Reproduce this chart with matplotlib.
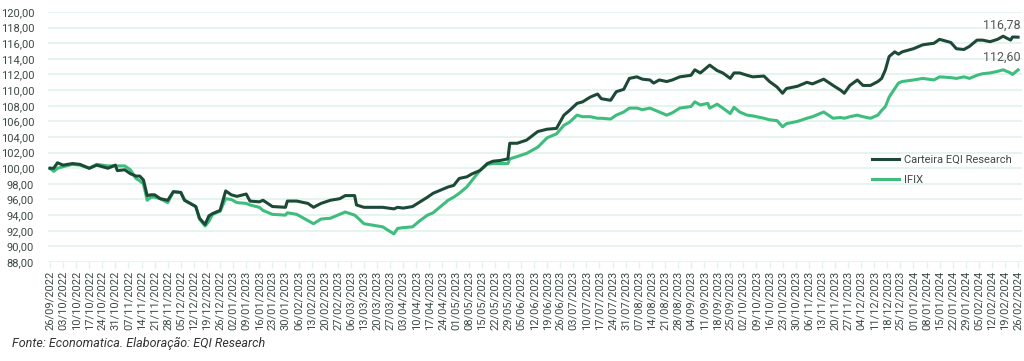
import datetime as dt
import matplotlib
matplotlib.use("Agg")
import matplotlib.pyplot as plt

# dias corridos a partir de 26/09/2022
dias = [0, 2, 4, 7, 12, 16, 21, 25, 31, 35, 36, 40, 43, 46, 48, 50, 52, 54, 56, 59,
        63, 66, 70, 72, 75, 78, 80, 83, 85, 87, 91, 94, 97, 100, 105, 107, 112, 114, 119, 126,
        127, 132, 138, 141, 145, 150, 155, 158, 163, 164, 168, 173, 178, 184, 186, 189, 194, 198, 202, 205,
        213, 216, 219, 223, 226, 230, 234, 237, 241, 245, 246, 250, 255, 261, 266, 271, 275, 278, 282, 285,
        289, 293, 295, 300, 303, 307, 310, 314, 317, 321, 323, 326, 330, 333, 337, 343, 345, 348, 352, 353,
        357, 360, 364, 366, 369, 373, 376, 382, 385, 389, 392, 394, 400, 405, 408, 414, 419, 423, 425, 428,
        432, 435, 439, 443, 445, 447, 449, 452, 454, 456, 462, 467, 473, 476, 482, 485, 489, 492, 496, 499,
        503, 507, 510, 514, 515, 518]

carteira = [100.0, 100.0, 100.7, 100.4, 100.6, 100.5, 100.0, 100.4, 100.0, 100.4, 99.7, 99.8, 99.3, 99.0, 99.0, 98.5, 96.5, 96.6, 96.6, 96.1,
            95.9, 97.0, 96.9, 95.9, 95.5, 95.1, 93.6, 92.8, 93.9, 94.2, 94.6, 97.1, 96.6, 96.4, 96.7, 95.8, 95.7, 95.9, 95.1, 95.0,
            95.8, 95.8, 95.5, 95.0, 95.5, 95.9, 96.1, 96.5, 96.5, 95.3, 95.0, 95.0, 95.0, 94.8, 95.0, 94.9, 95.1, 95.7, 96.3, 96.8,
            97.6, 97.8, 98.7, 98.9, 99.3, 99.7, 100.6, 100.9, 101.0, 101.2, 103.2, 103.2, 103.6, 104.7, 105.0, 105.1, 106.8, 107.4, 108.3, 108.5,
            109.1, 109.5, 108.9, 108.7, 109.8, 110.1, 111.5, 111.7, 111.4, 111.3, 110.9, 111.3, 111.1, 111.3, 111.7, 111.9, 112.6, 112.2, 113.0, 113.2,
            112.5, 112.2, 111.5, 112.2, 112.2, 111.9, 111.7, 111.8, 111.1, 110.4, 109.6, 110.2, 110.5, 111.0, 110.8, 111.4, 110.6, 110.0, 109.6, 110.6,
            111.3, 110.6, 110.6, 111.1, 111.5, 112.6, 114.3, 114.9, 114.6, 114.9, 115.3, 115.8, 116.0, 116.5, 116.1, 115.3, 115.2, 115.6, 116.4, 116.4,
            116.2, 116.5, 116.9, 116.4, 116.8, 116.78]

ifix = [100.0, 99.6, 100.0, 100.2, 100.5, 100.4, 100.0, 100.5, 100.3, 100.3, 100.3, 100.3, 99.8, 98.7, 98.4, 98.0, 95.9, 96.3, 96.3, 96.1,
        95.6, 97.0, 96.9, 95.9, 95.5, 95.1, 93.5, 92.6, 93.2, 94.1, 94.5, 96.1, 96.0, 95.6, 95.5, 95.3, 95.0, 94.6, 94.1, 94.0,
        94.3, 94.1, 93.3, 92.9, 93.5, 93.6, 94.1, 94.4, 94.0, 93.8, 92.9, 92.7, 92.5, 91.6, 92.3, 92.4, 92.5, 93.3, 94.0, 94.3,
        95.9, 96.3, 96.8, 97.6, 98.5, 99.7, 100.5, 100.6, 100.6, 100.6, 101.2, 101.5, 101.9, 102.7, 103.9, 104.4, 105.5, 105.9, 106.8, 106.6,
        106.6, 106.4, 106.4, 106.3, 106.8, 107.2, 107.7, 107.7, 107.5, 107.7, 107.5, 107.2, 106.8, 107.1, 107.7, 107.9, 108.5, 108.1, 108.3, 107.7,
        108.2, 107.7, 107.0, 107.8, 107.2, 106.8, 106.7, 106.4, 106.2, 106.1, 105.3, 105.7, 106.0, 106.4, 106.6, 107.2, 106.4, 106.5, 106.4, 106.6,
        106.8, 106.6, 106.4, 106.8, 107.4, 107.9, 109.1, 110.2, 110.9, 111.1, 111.3, 111.5, 111.3, 111.7, 111.6, 111.5, 111.7, 111.5, 111.9, 112.1,
        112.2, 112.4, 112.6, 112.2, 112.0, 112.60]

inicio = dt.date(2022, 9, 26)
semanas = list(range(0, 519, 7))
rotulos_x = [(inicio + dt.timedelta(days=d)).strftime("%d/%m/%Y") for d in semanas]
rotulos_y = list(range(88, 121, 2))

escuro = "#1d4a37"
claro = "#3fbd7d"
texto = "#3c4a46"
grade = "#dff2ec"

plt.rcParams['font.family'] = ['Roboto', 'DejaVu Sans']

fig = plt.figure(figsize=(10.24, 3.61), dpi=100)
ax = fig.add_axes([48 / 1024, 1 - 262 / 361, 974 / 1024, 250 / 361])

ax.plot(dias, carteira, color=escuro, lw=2.2, label="Carteira EQI Research", zorder=3)
ax.plot(dias, ifix, color=claro, lw=2.2, label="IFIX", zorder=2)

ax.set_xlim(-1.07, 520.1)
ax.set_ylim(88, 120)
ax.set_yticks(rotulos_y)
ax.set_yticklabels([f"{v:.2f}".replace(".", ",") for v in rotulos_y], fontsize=8, color=texto)
ax.set_xticks(semanas)
ax.set_xticklabels(rotulos_x, rotation=90, fontsize=8, color=texto)
ax.tick_params(axis="y", length=0, pad=10)
ax.tick_params(axis="x", length=4, color=grade, width=1, pad=2)
ax.grid(axis="y", color=grade, lw=1.2)
ax.set_axisbelow(True)
for pos in ['right', 'left', 'top', 'bottom']:
    ax.spines[pos].set_visible(False)

ax.annotate(f"{carteira[-1]:.2f}".replace(".", ","), (dias[-1], carteira[-1]),
            xytext=(2, 4), textcoords="offset points", ha="right", va="bottom",
            fontsize=9, color="#555555")
ax.annotate(f"{ifix[-1]:.2f}".replace(".", ","), (dias[-1], ifix[-1]),
            xytext=(2, 4), textcoords="offset points", ha="right", va="bottom",
            fontsize=9, color="#555555")

leg = ax.legend(loc="upper left", bbox_to_anchor=(820 / 974, 1 - 138 / 250), frameon=False,
                fontsize=8, handlelength=2.4, handletextpad=0.4, labelspacing=0.95,
                borderaxespad=0)
for t in leg.get_texts():
    t.set_color(texto)

fig.text(12 / 1024, 1 - 343 / 361, "Fonte: Economatica. Elaboração: EQI Research",
         fontsize=9, style="italic", color="#333333", va="center", ha="left")

fig.savefig("out.png", dpi=100)
